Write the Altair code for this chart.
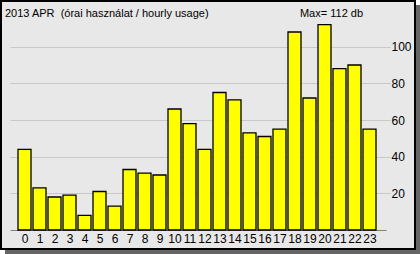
import altair as alt
import pandas as pd

hours = list(range(24))
usage = [44, 23, 18, 19, 8, 21, 13, 33, 31, 30, 66, 58, 44, 75, 71, 53, 51, 55, 108, 72, 112, 88, 90, 55]
title_text = "2013 APR\u00a0\u00a0(órai használat / hourly usage)"
max_text = "Max= 112 db"
y_ticks = [20, 40, 60, 80, 100]

FONT = "Liberation Sans"
df = pd.DataFrame({"hour": hours, "usage": usage})
one = pd.DataFrame({"a": [0]})

bars = alt.Chart(df).transform_calculate(
    x0="datum.hour - 0.433", x1="datum.hour + 0.433", base="0"
).mark_bar(color="#ffff00", stroke="#000000", strokeWidth=1.3).encode(
    x=alt.X("x0:Q", scale=alt.Scale(domain=[-0.9667, 24.1], nice=False, zero=False),
            axis=alt.Axis(values=hours, format="d", title=None, grid=False, ticks=False,
                          domainColor="#808080", domainWidth=1, labelPadding=3,
                          labelFont=FONT, labelFontSize=12, labelColor="#000000",
                          labelFlush=False, labelOverlap=False)),
    x2="x1:Q",
    y=alt.Y("usage:Q", scale=alt.Scale(domain=[0, 120], nice=False),
            axis=alt.Axis(orient="right", values=y_ticks, title=None, grid=True,
                          gridColor="#c8c8c8", tickColor="#c8c8c8", tickSize=4,
                          domain=False, labelPadding=1, labelFont=FONT, labelFontSize=12,
                          labelColor="#000000")),
    y2="base:Q",
)

def rect(x, x2, y, y2, **kw):
    return alt.Chart(one).mark_rect(**kw).encode(
        x=alt.value(x), x2=alt.value(x2), y=alt.value(y), y2=alt.value(y2))

# page coords offset by padding (10,10)
shadow_r = rect(406, 410, -5, 244, fill="#666666")
shadow_b = rect(-5, 410, 240, 244, fill="#666666")
corner_tr = rect(406, 410, -10, -5, fill="#ffffff")
corner_bl = rect(-10, -5, 240, 244, fill="#ffffff")
frame = alt.Chart(one).mark_rect(fillOpacity=0, stroke="#000000", strokeWidth=2).encode(
    x=alt.value(-9), x2=alt.value(405), y=alt.value(-9), y2=alt.value(239))

title = alt.Chart(one).mark_text(text=title_text, font=FONT, fontSize=11, align="left",
                                 baseline="middle", color="#000000").encode(
    x=alt.value(-5), y=alt.value(3.5))
maxt = alt.Chart(one).mark_text(text=max_text, font=FONT, fontSize=11, align="center",
                                baseline="middle", color="#000000").encode(
    x=alt.value(321.5), y=alt.value(3.5))

chart = alt.layer(bars, shadow_r, shadow_b, corner_tr, corner_bl, frame, title, maxt).properties(
    width=376, height=220,
    autosize=alt.AutoSizeParams(type="none"),
    padding={"left": 10, "top": 10, "right": 34, "bottom": 24},
    background="#e8e8e8",
).configure_view(stroke=None)

chart.save("out.html", embed_options={"renderer": "svg", "actions": False})
